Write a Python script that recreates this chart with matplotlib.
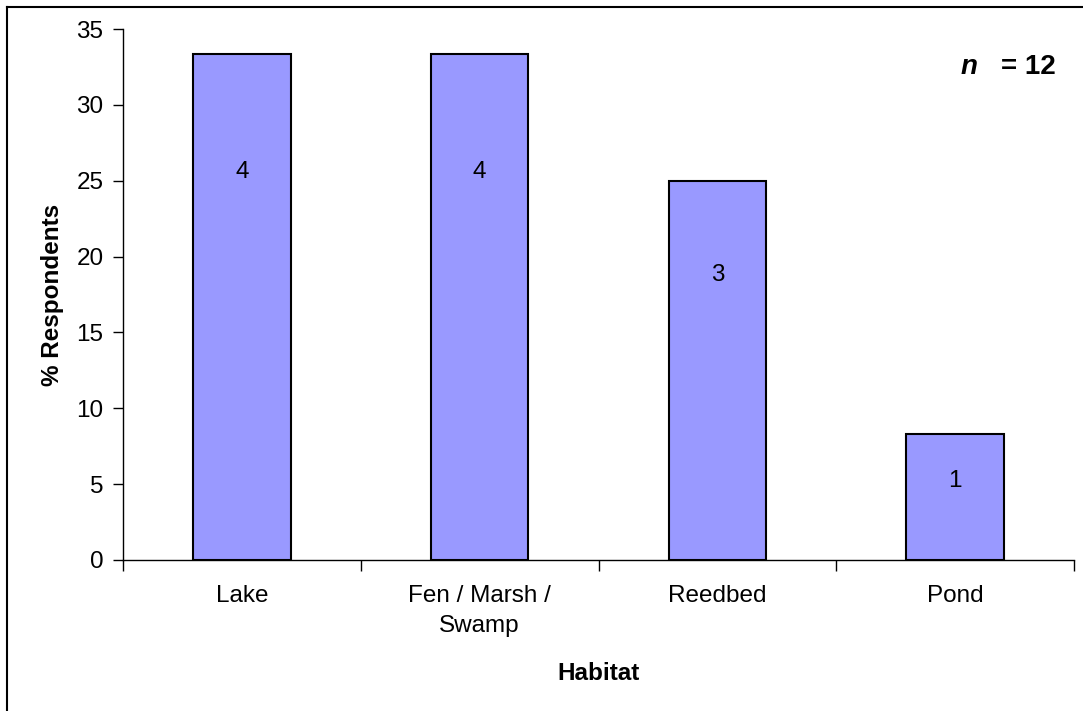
import matplotlib
matplotlib.use("Agg")
import matplotlib.pyplot as plt
from matplotlib.lines import Line2D

categories = ["Lake", "Fen / Marsh /\nSwamp", "Reedbed", "Pond"]
percent = [33.33, 33.33, 25.0, 8.33]
counts = [4, 4, 3, 1]
label_y = [25.6, 25.6, 18.8, 5.2]
yticks = [0, 5, 10, 15, 20, 25, 30, 35]

plt.rcParams['font.family'] = ['Liberation Sans', 'DejaVu Sans']
FS = 17.5

fig = plt.figure(figsize=(10.83, 7.11), dpi=100)
ax = fig.add_axes([123/1083, 1 - 560/711, (1074-123)/1083, (560-29)/711])

x = list(range(len(categories)))
ax.bar(x, percent, width=0.41, color="#9999FF", edgecolor="black", linewidth=1.5)
for xi, yi, c in zip(x, label_y, counts):
    ax.text(xi, yi, str(c), ha="center", va="center", fontsize=FS)

ax.set_xlim(-0.5, 3.5)
ax.set_ylim(0, 35)
ax.set_yticks(yticks)
ax.set_xticks([i - 0.5 for i in range(len(categories) + 1)], minor=False)
ax.set_xticklabels([])
ax.set_xticks(x, minor=True)
ax.set_xticklabels(categories, minor=True, fontsize=FS, linespacing=1.45)
ax.tick_params(axis="x", which="major", direction="out", length=8, width=1)
ax.tick_params(axis="x", which="minor", length=0, pad=18)
ax.tick_params(axis="y", direction="out", length=7, width=1, labelsize=FS, pad=7)
for s in ["top", "right"]:
    ax.spines[s].set_visible(False)
for s in ["left", "bottom"]:
    ax.spines[s].set_linewidth(1)

ax.set_ylabel("% Respondents", fontsize=FS, fontweight="bold", va="center")
ax.yaxis.set_label_coords((53 - 123) / 951, 0.5)
ax.set_xlabel("Habitat", fontsize=FS, fontweight="bold", va="center")
ax.xaxis.set_label_coords(0.5, -(673 - 560) / 531)

ax.text(0.899, 0.928, "n", transform=ax.transAxes, ha="right", va="center",
        fontsize=20, fontweight="bold", fontstyle="italic")
ax.text(0.981, 0.928, "= 12", transform=ax.transAxes, ha="right", va="center",
        fontsize=20, fontweight="bold")

# outer chart border (left and top visible)
fig.add_artist(Line2D([7/1083, 7/1083], [0, 1 - 7/711], transform=fig.transFigure,
                      color="black", linewidth=1.5))
fig.add_artist(Line2D([7/1083, 1], [1 - 7/711, 1 - 7/711], transform=fig.transFigure,
                      color="black", linewidth=1.5))

fig.savefig("out.png", dpi=100)
